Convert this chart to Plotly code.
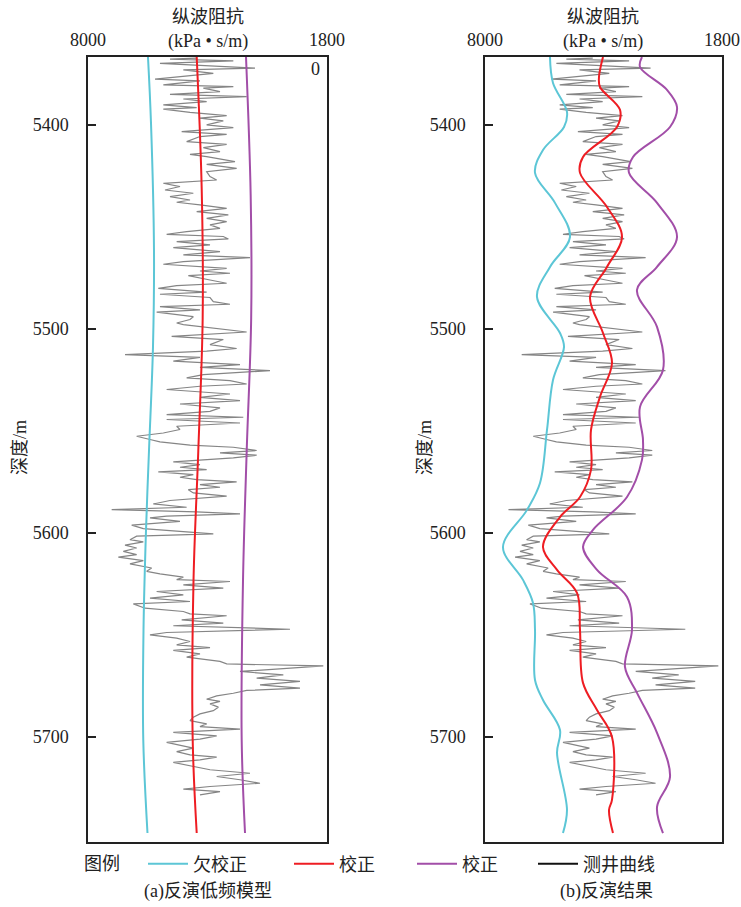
import plotly.graph_objects as go

# ---------------- data ----------------
depth_ticks = [5400, 5500, 5600, 5700]
imp_ticks = [8000, 1800]
imp_tick_text = ["8000", "1800"]

# well log (测井曲线): depth (m), P-impedance
log_depth = [5367.3, 5367.7, 5368.6, 5369.8, 5372.2, 5373.0, 5374.7, 5377.5, 5378.4, 5380.4,
             5381.2, 5382.0, 5383.7, 5385.0, 5386.1, 5387.3, 5388.6, 5390.2, 5391.5, 5392.3,
             5393.8, 5395.4, 5396.7, 5398.0, 5400.0, 5401.3, 5403.3, 5404.6, 5405.7, 5408.2,
             5409.5, 5411.1, 5413.1, 5414.4, 5415.5, 5418.0, 5419.3, 5421.3, 5422.9, 5425.3,
             5427.0, 5428.6, 5430.2, 5431.9, 5433.5, 5435.1, 5436.8, 5437.9, 5439.2, 5440.9,
             5442.5, 5444.1, 5445.8, 5447.4, 5449.0, 5450.7, 5452.3, 5453.6, 5454.7, 5455.9,
             5457.2, 5458.8, 5460.1, 5462.1, 5463.7, 5465.0, 5467.0, 5468.3, 5470.3, 5471.6,
             5472.7, 5473.9, 5476.0, 5477.6, 5478.8, 5480.1, 5482.0, 5483.0, 5484.6, 5486.6,
             5487.9, 5489.1, 5490.7, 5491.8, 5494.0, 5495.4, 5497.1, 5497.9, 5501.5, 5503.6,
             5505.2, 5507.7, 5509.6, 5510.9, 5512.6, 5513.9, 5515.8, 5517.5, 5518.8, 5520.4,
             5522.4, 5524.0, 5525.3, 5527.0, 5528.1, 5529.7, 5531.9, 5533.5, 5535.1, 5536.8,
             5538.7, 5540.4, 5542.0, 5543.3, 5544.4, 5546.1, 5547.7, 5549.3, 5551.0, 5552.6,
             5554.2, 5555.4, 5557.0, 5558.0, 5559.6, 5560.8, 5561.9, 5563.2, 5565.2, 5566.5,
             5567.8, 5569.0, 5570.1, 5571.4, 5572.7, 5573.9, 5575.0, 5576.3, 5577.6, 5578.8,
             5580.4, 5582.0, 5584.1, 5585.8, 5587.4, 5588.6, 5589.7, 5590.7, 5591.8, 5592.6,
             5594.3, 5596.2, 5597.9, 5599.2, 5600.5, 5601.6, 5603.3, 5604.4, 5606.0, 5607.4,
             5609.0, 5610.6, 5611.9, 5613.6, 5615.2, 5617.2, 5618.8, 5620.1, 5621.7, 5622.9,
             5623.8, 5625.5, 5627.1, 5628.7, 5630.4, 5632.0, 5633.6, 5634.8, 5636.9, 5638.5,
             5639.7, 5640.6, 5642.6, 5644.2, 5645.5, 5647.2, 5648.8, 5650.0, 5651.6, 5653.2,
             5654.9, 5656.2, 5657.6, 5659.3, 5660.9, 5663.0, 5664.2, 5665.2, 5666.8, 5667.9,
             5669.6, 5671.2, 5672.8, 5674.5, 5676.1, 5677.2, 5678.6, 5679.9, 5681.5, 5682.6,
             5683.8, 5685.4, 5687.1, 5688.7, 5690.3, 5692.0, 5693.6, 5694.9, 5696.2, 5697.8,
             5699.5, 5701.1, 5702.7, 5704.4, 5705.5, 5707.2, 5708.8, 5709.9, 5711.2, 5712.5,
             5714.5, 5716.1, 5717.8, 5719.4, 5721.0, 5722.7, 5724.3, 5725.6, 5726.8, 5728.4]
log_imp = [5181, 5873, 4230, 6133, 3668, 5527, 4749, 6262, 5095, 6046,
           4230, 5008, 4576, 5873, 3884, 5527, 4922, 6046, 5181, 6046,
           5354, 4403, 5095, 4490, 4922, 4230, 5570, 4403, 5095, 5441,
           4403, 5008, 4576, 5354, 4922, 4187, 4922, 4144, 4922, 4835,
           4662, 6046, 5614, 6003, 5268, 5873, 5354, 5700, 5095, 4403,
           5181, 4360, 4922, 4403, 4835, 4576, 5441, 5960, 4490, 4360,
           5700, 4835, 5787, 4576, 5527, 3798, 5527, 6046, 4403, 5095,
           4317, 5397, 4835, 4403, 5700, 6176, 4922, 6133, 4835, 4749,
           4317, 6133, 5095, 6219, 5268, 5354, 5700, 5527, 3884, 5830,
           4490, 4835, 4144, 4922, 7040, 5095, 5787, 4057, 5095, 3279,
           5008, 5441, 4317, 3884, 5095, 5960, 4317, 5095, 4057, 5614,
           4576, 4835, 5960, 3971, 5960, 4057, 5700, 5614, 6046, 6738,
           6392, 6133, 5354, 4230, 3625, 4576, 3625, 4230, 5787, 5095,
           5614, 4922, 6176, 5268, 5614, 5181, 4144, 5095, 4576, 5397,
           5268, 4403, 5873, 6306, 5441, 7386, 5181, 4057, 5960, 6392,
           5614, 6867, 6565, 5614, 4749, 6738, 6911, 6565, 7040, 6738,
           7084, 6738, 7213, 6565, 6911, 6349, 6478, 6133, 5527, 5700,
           4317, 5527, 4490, 6219, 5527, 6392, 5354, 6824, 6521, 5527,
           5354, 4403, 5570, 4490, 5787, 2760, 5960, 6392, 5700, 5354,
           5700, 4835, 5787, 5095, 5441, 4576, 4403, 1896, 3106, 4057,
           2933, 3625, 2501, 3538, 2501, 3884, 4230, 4662, 4922, 4576,
           4835, 4619, 4749, 5095, 5268, 5354, 4922, 5095, 4057, 5787,
           4662, 5095, 5960, 5527, 5268, 5700, 5354, 4662, 5095, 5787,
           5268, 4835, 3798, 4662, 4057, 3538, 4835, 5527, 4576, 5095]

# (a) low-frequency model curves
a_cyan_depth = [5366.7, 5399.0, 5461.3, 5508.8, 5559.8, 5598.5, 5647.5, 5701.5, 5747.1]
a_cyan_imp = [6444, 6366, 6288, 6314, 6418, 6495, 6560, 6566, 6457]
a_red_depth = [5366.7, 5430.9, 5494.6, 5559.8, 5623.5, 5701.5, 5747.1]
a_red_imp = [5180, 5051, 5025, 5139, 5263, 5284, 5180]
a_purple_depth = [5366.7, 5434.3, 5494.6, 5559.8, 5623.5, 5701.5, 5747.1]
a_purple_imp = [3901, 3780, 3767, 3883, 3979, 4013, 3927]

# (b) inversion results
b_cyan_depth = [5366.7, 5379.4, 5393.6, 5401.0, 5412.3, 5423.5, 5438.2, 5454.9, 5469.6, 5484.3,
                5502.0, 5508.8, 5525.0, 5549.5, 5575.5, 5588.7, 5606.9, 5623.0, 5634.3, 5647.5,
                5672.1, 5681.9, 5696.6, 5707.8, 5735.8, 5747.1]
b_cyan_imp = [6300, 6221, 5855, 5933, 6483, 6692, 6169, 5776, 6300, 6640,
              6038, 5933, 6221, 6378, 6561, 6901, 7529, 7006, 6744, 6692,
              6692, 6483, 6038, 6116, 5855, 5960]
b_red_depth = [5366.7, 5376.5, 5381.4, 5392.6, 5401.0, 5415.7, 5423.5, 5440.2, 5454.9, 5469.6,
               5484.3, 5502.0, 5516.7, 5533.3, 5549.5, 5569.1, 5582.4, 5592.2, 5606.9, 5618.1,
               5629.4, 5647.5, 5673.5, 5686.8, 5700.0, 5730.9, 5735.8, 5747.1]
b_red_imp = [4913, 5018, 4992, 4468, 4547, 5436, 5515, 4809, 4416, 4809,
             5253, 4913, 4678, 4992, 5227, 5227, 5515, 6038, 6483, 6116,
             5593, 5515, 5436, 5070, 4678, 4678, 4756, 4652]
b_purple_depth = [5366.7, 5371.6, 5382.8, 5391.2, 5401.0, 5415.7, 5423.5, 5438.2, 5454.9, 5469.6,
                  5480.9, 5499.0, 5520.1, 5538.2, 5554.4, 5564.2, 5582.4, 5598.5, 5606.9, 5618.1,
                  5631.4, 5647.5, 5665.7, 5678.4, 5698.0, 5719.6, 5734.3, 5747.1]
b_purple_imp = [3893, 3945, 3239, 2977, 3160, 4128, 4233, 3500, 2977, 3500,
                4024, 3500, 3344, 3945, 3867, 3893, 4285, 5175, 5436, 5070,
                4285, 4155, 4338, 4024, 3500, 3160, 3500, 3344]

legend_names = ["欠校正", "校正", "校正", "测井曲线"]
panel_captions = ["(a)反演低频模型", "(b)反演结果"]
x_title = ["纵波阻抗", "(kPa • s/m)"]
y_title = "深度/m"

# ---------------- style ----------------
CYAN = "#5cc6d6"
RED = "#ee1d23"
PURPLE = "#a24ea8"
GRAY = "#858585"
FONT = "Liberation Serif, 'Noto Sans CJK SC', serif"
FS = 18
W, H = 741, 907

fig = go.Figure()

def add_panel(xa, ya, cyan, red, purple, legend_on):
    fig.add_trace(go.Scatter(x=log_imp, y=log_depth, mode="lines", xaxis=xa, yaxis=ya,
                             line=dict(color=GRAY, width=1.2), showlegend=False))
    for (d, v), col, name, lg in [(cyan, CYAN, legend_names[0], "legend"),
                                  (red, RED, legend_names[1], "legend2"),
                                  (purple, PURPLE, legend_names[2], "legend3")]:
        fig.add_trace(go.Scatter(x=v, y=d, mode="lines", xaxis=xa, yaxis=ya,
                                 line=dict(color=col, width=2, shape="spline", smoothing=1.0),
                                 name=name, showlegend=legend_on, legend=lg))

add_panel("x", "y", (a_cyan_depth, a_cyan_imp), (a_red_depth, a_red_imp),
          (a_purple_depth, a_purple_imp), True)
add_panel("x2", "y2", (b_cyan_depth, b_cyan_imp), (b_red_depth, b_red_imp),
          (b_purple_depth, b_purple_imp), False)
# legend-only entry for the well-log curve
fig.add_trace(go.Scatter(x=[None], y=[None], mode="lines", xaxis="x", yaxis="y",
                         line=dict(color="#111111", width=2), name=legend_names[3],
                         showlegend=True, legend="legend4"))

def px_x(p):
    return p / W

def px_y(p):
    return 1 - p / H

ydom = [px_y(842), px_y(57)]
xdoms = [[px_x(88), px_x(327)], [px_x(485), px_x(722)]]

common_x = dict(range=[8000, 1800], side="top", tickvals=imp_ticks, ticktext=imp_tick_text,
                ticks="", showgrid=False, zeroline=False, showline=True, mirror=True,
                linecolor="#222222", linewidth=1.5, ticklabelstandoff=2, automargin=False,
                tickfont=dict(family=FONT, size=FS, color="#222222"))
common_y = dict(range=[5751.5, 5366.7], tickvals=depth_ticks, ticks="inside", ticklen=8,
                tickwidth=1.5, tickcolor="#222222", showgrid=False, zeroline=False,
                showline=True, mirror=True, linecolor="#222222", linewidth=1.5,
                ticklabelstandoff=14, automargin=False,
                tickfont=dict(family=FONT, size=FS, color="#222222"))

fig.update_layout(
    width=W, height=H, margin=dict(l=0, r=0, t=0, b=0, pad=0), autosize=False,
    paper_bgcolor="white", plot_bgcolor="white",
    xaxis=dict(domain=xdoms[0], anchor="y", **common_x),
    yaxis=dict(domain=ydom, anchor="x", **common_y),
    xaxis2=dict(domain=xdoms[1], anchor="y2", **common_x),
    yaxis2=dict(domain=ydom, anchor="x2", **common_y),
    font=dict(family=FONT, size=FS, color="#222222"),
)

leg_common = dict(orientation="h", xanchor="left", yanchor="middle", yref="paper", xref="paper",
                  bgcolor="rgba(0,0,0,0)", borderwidth=0, itemwidth=40,
                  font=dict(family=FONT, size=FS, color="#222222"))
leg_x = [143, 289, 412, 533]
fig.update_layout(
    legend=dict(x=px_x(leg_x[0]), y=px_y(864), **leg_common),
    legend2=dict(x=px_x(leg_x[1]), y=px_y(864), **leg_common),
    legend3=dict(x=px_x(leg_x[2]), y=px_y(864), **leg_common),
    legend4=dict(x=px_x(leg_x[3]), y=px_y(864), **leg_common),
)

ann = []
def text(x, y, s, angle=0):
    ann.append(dict(x=px_x(x), y=px_y(y), xref="paper", yref="paper", text=s, showarrow=False,
                    xanchor="center", yanchor="middle", textangle=angle,
                    font=dict(family=FONT, size=FS, color="#222222")))

for cx in (208, 603):
    text(cx, 17, x_title[0])
    text(cx, 41, x_title[1])
text(315, 69, "0")
text(20, 448, y_title, -90)
text(425, 448, y_title, -90)
text(102, 864, "图例")
text(208, 891, panel_captions[0])
text(606, 891, panel_captions[1])
fig.update_layout(annotations=ann)

fig.write_html("out.html", config={"displayModeBar": False},
               post_script="document.body.style.margin='0';document.body.style.overflow='hidden';")
